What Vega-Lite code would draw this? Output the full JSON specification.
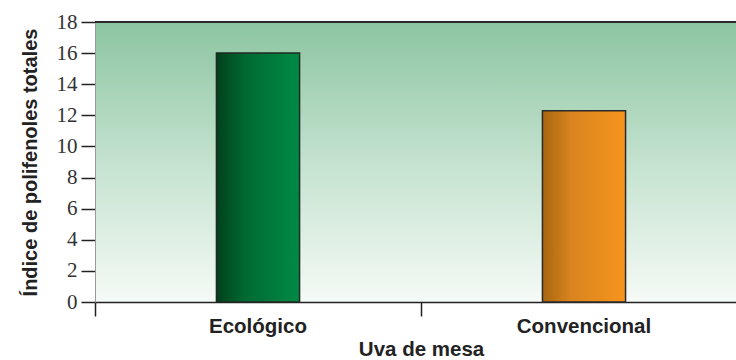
{
  "$schema": "https://vega.github.io/schema/vega-lite/v6.json",
  "width": 641,
  "height": 280,
  "autosize": {"type": "none"},
  "padding": {"left": 95, "top": 22, "right": 0, "bottom": 58},
  "background": "white",
  "view": {
    "stroke": null,
    "fill": {
      "gradient": "linear", "x1": 0, "y1": 0, "x2": 0, "y2": 1,
      "stops": [
        {"offset": 0, "color": "#8cc5a1"},
        {"offset": 0.5, "color": "#c4e2cf"},
        {"offset": 1, "color": "#f5faf6"}
      ]
    }
  },
  "config": {
    "font": "Liberation Sans",
    "axis": {"tickColor": "#222222", "domainColor": "#222222", "labelColor": "#222222", "titleColor": "#222222"},
    "axisX": {
      "bandPosition": 0, "tickSize": 14, "tickWidth": 1.5, "domainWidth": 1.5,
      "labelFontSize": 20.5, "labelFontWeight": "bold", "labelPadding": 0, "labelAngle": 0,
      "titleFontSize": 20.5, "titleFontWeight": "bold", "titlePadding": 3
    },
    "axisY": {
      "grid": false, "domainColor": "#999999", "domainWidth": 1,
      "tickSize": 14, "tickWidth": 1.5,
      "labelFont": "Liberation Sans Narrow", "labelFontSize": 21, "labelPadding": 4, "labelColor": "#333333",
      "titleFontSize": 20, "titleFontWeight": "bold", "titlePadding": 16
    }
  },
  "data": {
    "values": [
      {"tipo": "Ecológico", "indice": 16.0},
      {"tipo": "Convencional", "indice": 12.3}
    ]
  },
  "layer": [
    {
      "transform": [{"filter": "datum.tipo === 'Ecológico'"}],
      "mark": {
        "type": "bar",
        "width": {"band": 0.255},
        "stroke": "#1e2a22",
        "strokeWidth": 1.5,
        "fill": {
          "gradient": "linear", "x1": 0, "y1": 0, "x2": 1, "y2": 0,
          "stops": [
            {"offset": 0, "color": "#00401b"},
            {"offset": 0.35, "color": "#006a33"},
            {"offset": 1, "color": "#008a45"}
          ]
        }
      },
      "encoding": {
        "x": {
          "field": "tipo", "type": "nominal", "sort": ["Ecológico", "Convencional"],
          "scale": {"range": [0, 652], "paddingInner": 0, "paddingOuter": 0},
          "title": "Uva de mesa"
        },
        "y": {
          "field": "indice", "type": "quantitative",
          "scale": {"domain": [0, 18], "nice": false},
          "title": "Índice de polifenoles totales",
          "axis": {"values": [0, 2, 4, 6, 8, 10, 12, 14, 16, 18]}
        }
      }
    },
    {
      "transform": [{"filter": "datum.tipo === 'Convencional'"}],
      "mark": {
        "type": "bar",
        "width": {"band": 0.255},
        "stroke": "#2a2a2a",
        "strokeWidth": 1.5,
        "fill": {
          "gradient": "linear", "x1": 0, "y1": 0, "x2": 1, "y2": 0,
          "stops": [
            {"offset": 0, "color": "#a8660f"},
            {"offset": 0.35, "color": "#d98420"},
            {"offset": 1, "color": "#f7941d"}
          ]
        }
      },
      "encoding": {
        "x": {"field": "tipo", "type": "nominal", "sort": ["Ecológico", "Convencional"], "title": "Uva de mesa"},
        "y": {"field": "indice", "type": "quantitative", "title": "Índice de polifenoles totales",
              "axis": {"values": [0, 2, 4, 6, 8, 10, 12, 14, 16, 18]}}
      }
    },
    {
      "mark": {"type": "rule", "color": "#2a2a2a", "strokeWidth": 2},
      "encoding": {
        "y": {"datum": 18, "type": "quantitative", "title": "Índice de polifenoles totales",
              "axis": {"values": [0, 2, 4, 6, 8, 10, 12, 14, 16, 18]}}
      }
    }
  ]
}
